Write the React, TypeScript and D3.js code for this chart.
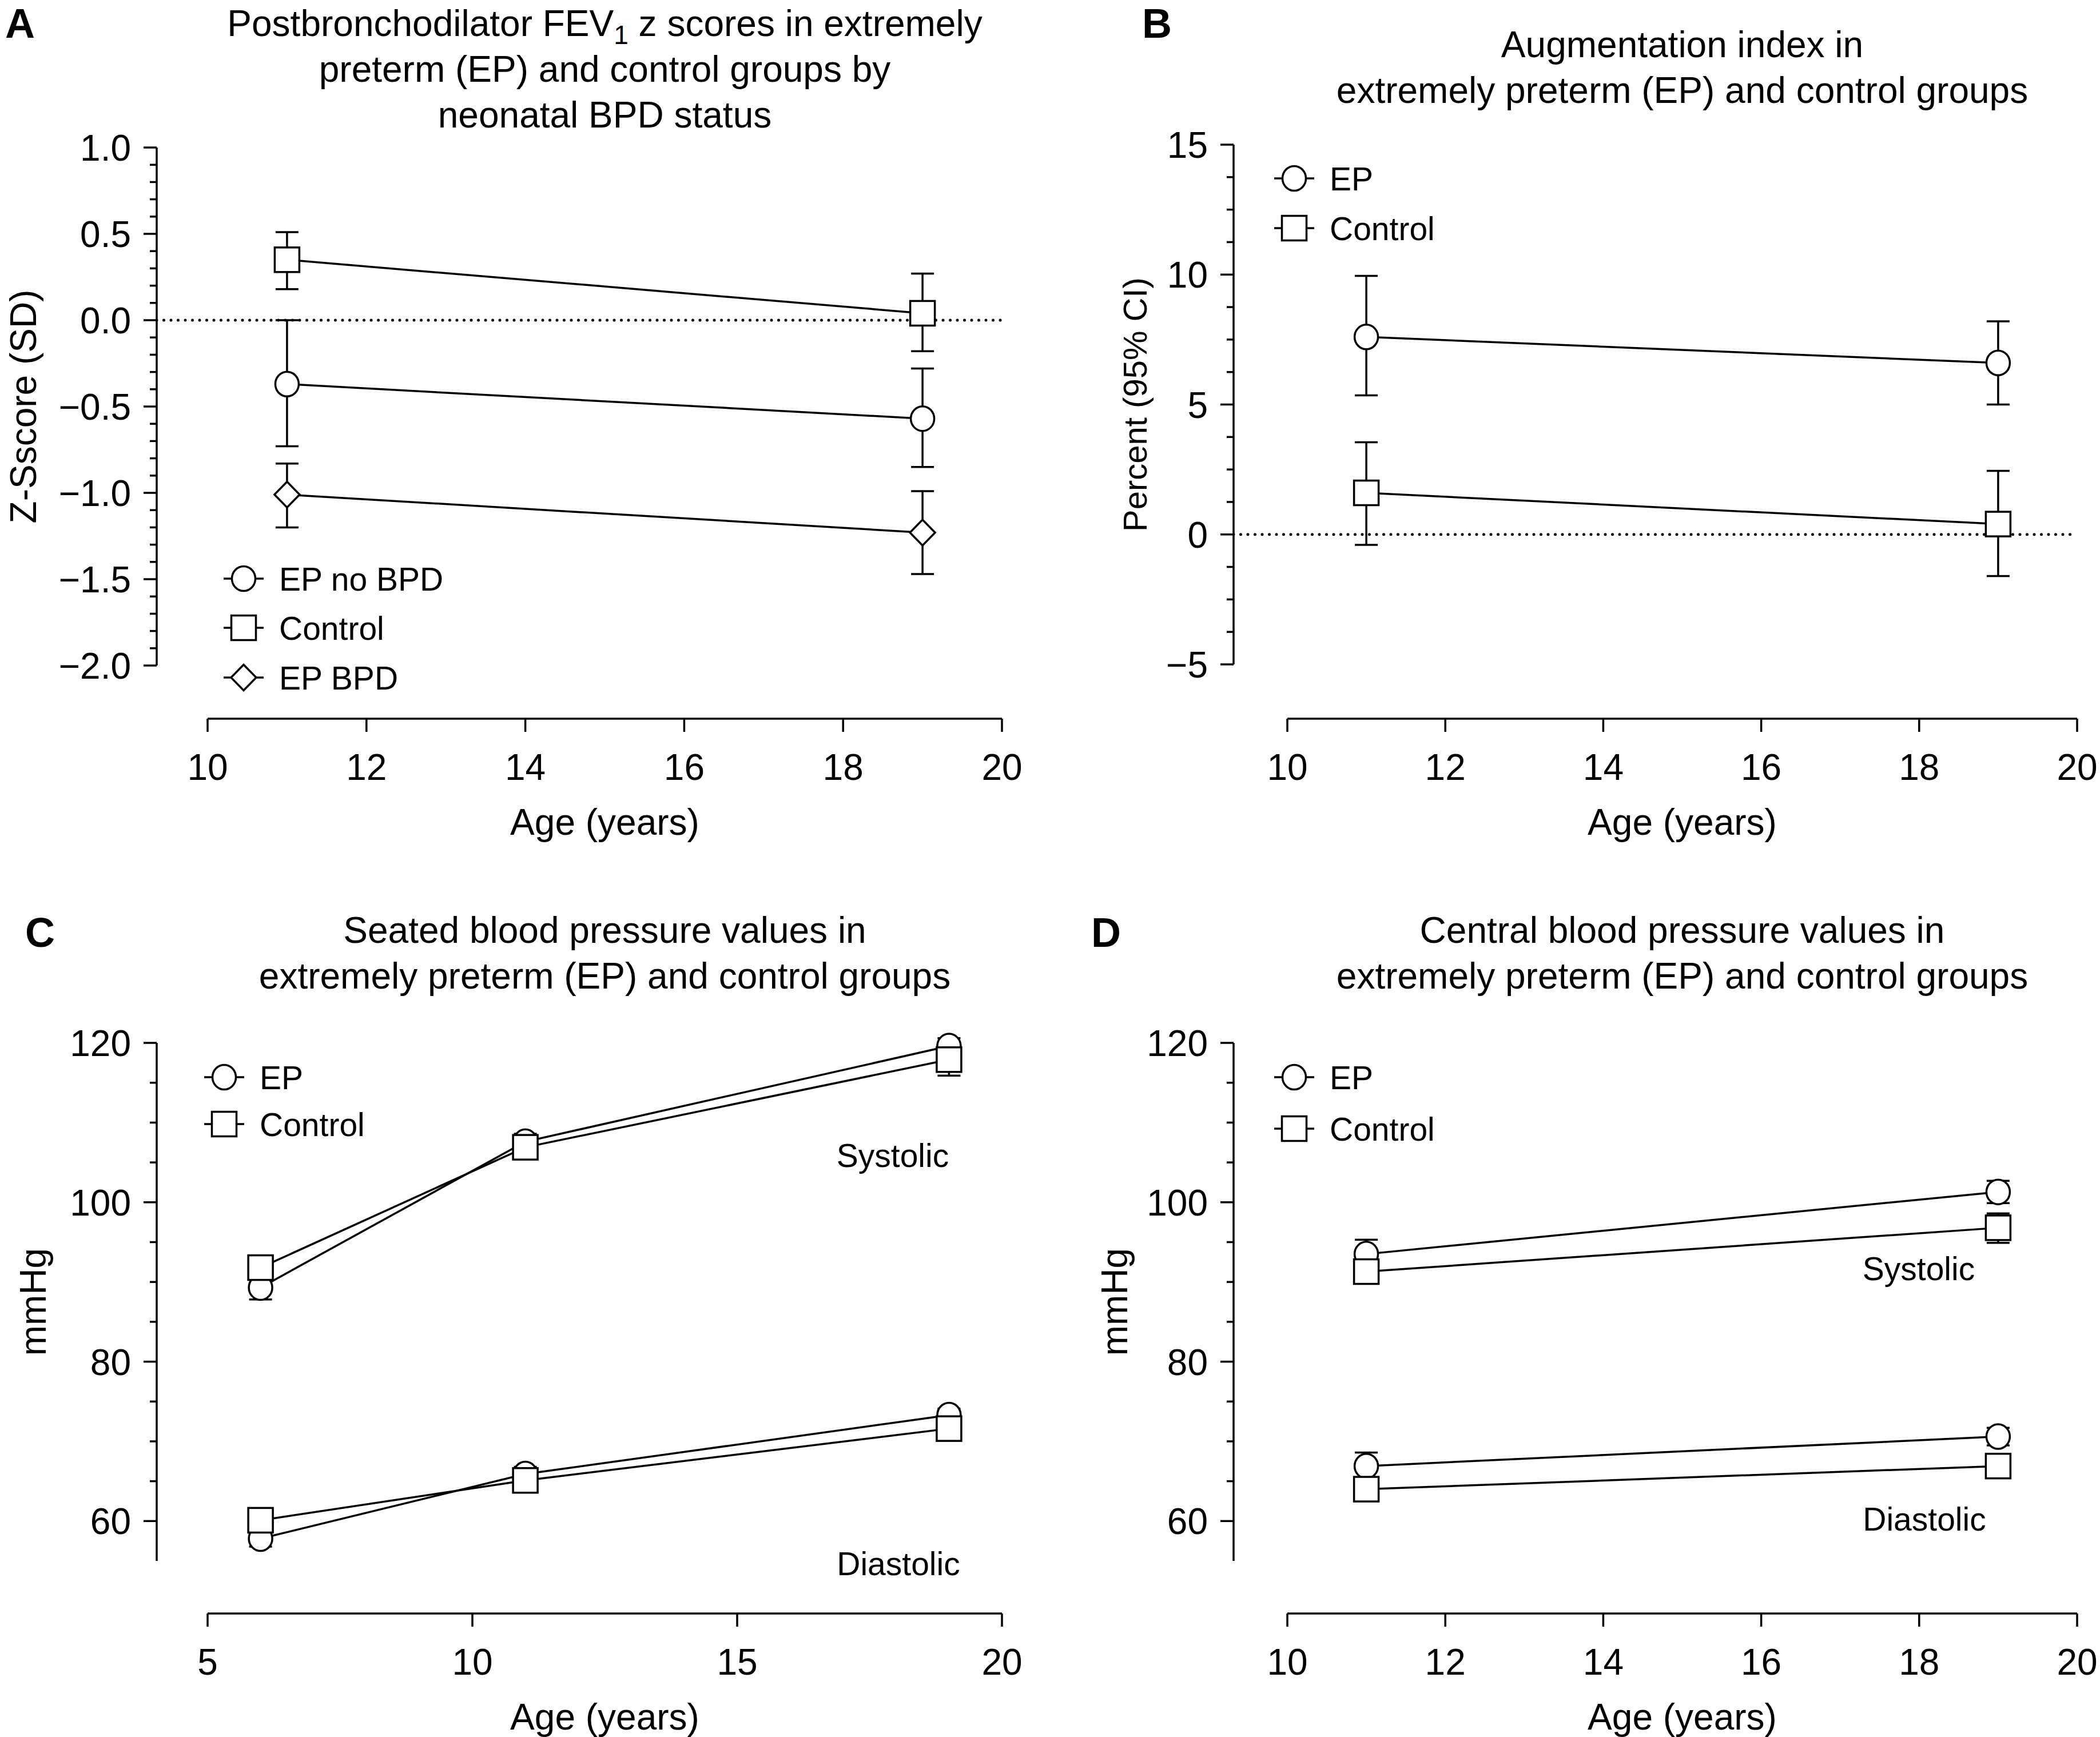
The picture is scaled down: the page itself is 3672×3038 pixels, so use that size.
import * as d3 from 'd3'

const FONT = '"Liberation Sans", Arial, Helvetica, sans-serif'
const LW = 3.5

// ---- A: postbronchodilator FEV1 z scores
const agesA = [11, 19]
const epNoBpdZ = [-0.37, -0.57]
const epNoBpdLo = [-0.73, -0.85]
const epNoBpdHi = [0.0, -0.28]
const controlZ = [0.35, 0.04]
const controlZLo = [0.18, -0.18]
const controlZHi = [0.51, 0.27]
const epBpdZ = [-1.01, -1.23]
const epBpdLo = [-1.2, -1.47]
const epBpdHi = [-0.83, -0.99]

// ---- B: augmentation index
const agesB = [11, 19]
const aixEp = [7.6, 6.6]
const aixEpLo = [5.35, 5.0]
const aixEpHi = [9.95, 8.2]
const aixControl = [1.6, 0.4]
const aixControlLo = [-0.4, -1.6]
const aixControlHi = [3.55, 2.45]

// ---- C: seated blood pressure
const agesC = [6, 11, 19]
const seatSysEp = [89.3, 107.6, 119.6]
const seatSysEpLo = [87.8, 106.6, 118.6]
const seatSysEpHi = [90.8, 108.6, 120.6]
const seatSysCtl = [91.8, 106.9, 117.9]
const seatSysCtlLo = [90.6, 105.9, 115.9]
const seatSysCtlHi = [93.0, 107.9, 119.9]
const seatDiaEp = [57.8, 65.9, 73.3]
const seatDiaEpLo = [56.8, 65.0, 72.5]
const seatDiaEpHi = [58.8, 66.8, 74.1]
const seatDiaCtl = [60.1, 65.1, 71.6]
const seatDiaCtlLo = [59.1, 64.2, 70.8]
const seatDiaCtlHi = [61.1, 66.0, 72.4]

// ---- D: central blood pressure
const agesD = [11, 19]
const cenSysEp = [93.5, 101.3]
const cenSysEpLo = [91.7, 99.9]
const cenSysEpHi = [95.3, 102.7]
const cenSysCtl = [91.3, 96.8]
const cenSysCtlLo = [89.8, 94.9]
const cenSysCtlHi = [92.8, 98.6]
const cenDiaEp = [66.9, 70.6]
const cenDiaEpLo = [65.1, 69.5]
const cenDiaEpHi = [68.6, 71.7]
const cenDiaCtl = [64.0, 66.9]
const cenDiaCtlLo = [62.6, 65.8]
const cenDiaCtlHi = [65.4, 68.0]

const xTicks10 = [10, 12, 14, 16, 18, 20]
const xTicks5 = [5, 10, 15, 20]
const yTicksA = [1.0, 0.5, 0.0, -0.5, -1.0, -1.5, -2.0]
const yTicksB = [15, 10, 5, 0, -5]
const yTicksBP = [120, 100, 80, 60]

const mk = (shape, xs, ys, lo, hi) => ({
  shape,
  pts: xs.map((x, i) => ({ x, y: ys[i], lo: lo[i], hi: hi[i] })),
})

const panels = [
  {
    letter: 'A', letterPos: [35, 66],
    title: [['Postbronchodilator FEV', '1', ' z scores in extremely'], ['preterm (EP) and control groups by'], ['neonatal BPD status']],
    titleY: 40,
    xDomain: [10, 20], xRange: [363, 1752], xTicks: xTicks10, xAxisY: 1257,
    yDomain: [-2, 1], yRange: [1164, 258], yTicks: yTicksA, yMinor: 0.1, yAxisX: 274,
    yFmt: d3.format('.1f'),
    yLabel: 'Z-Sscore (SD)', yLabelX: 40, yLabelSize: 64,
    zero: true,
    series: [
      mk('circle', agesA, epNoBpdZ, epNoBpdLo, epNoBpdHi),
      mk('square', agesA, controlZ, controlZLo, controlZHi),
      mk('diamond', agesA, epBpdZ, epBpdLo, epBpdHi),
    ],
    legend: { x: 426, y: [1012, 1098, 1185], items: [['circle', 'EP no BPD'], ['square', 'Control'], ['diamond', 'EP BPD']] },
    notes: [],
  },
  {
    letter: 'B', letterPos: [2023, 66],
    title: [['Augmentation index in'], ['extremely preterm (EP) and control groups']],
    titleY: 77,
    xDomain: [10, 20], xRange: [2251, 3632], xTicks: xTicks10, xAxisY: 1257,
    yDomain: [-5, 15], yRange: [1162, 253], yTicks: yTicksB, yMinor: 1.25, yAxisX: 2157,
    yFmt: d3.format('d'),
    yLabel: 'Percent (95% CI)', yLabelX: 1984, yLabelSize: 58,
    zero: true,
    series: [
      mk('circle', agesB, aixEp, aixEpLo, aixEpHi),
      mk('square', agesB, aixControl, aixControlLo, aixControlHi),
    ],
    legend: { x: 2263, y: [312, 399], items: [['circle', 'EP'], ['square', 'Control']] },
    notes: [],
  },
  {
    letter: 'C', letterPos: [70, 1656],
    title: [['Seated blood pressure values in'], ['extremely preterm (EP) and control groups']],
    titleY: 1626,
    xDomain: [5, 20], xRange: [363, 1752], xTicks: xTicks5, xAxisY: 2822,
    yDomain: [55, 120], yRange: [2730, 1824], yTicks: yTicksBP, yMinor: 5, yAxisX: 274,
    yFmt: d3.format('d'),
    yLabel: 'mmHg', yLabelX: 57, yLabelSize: 64,
    zero: false,
    series: [
      mk('circle', agesC, seatSysEp, seatSysEpLo, seatSysEpHi),
      mk('square', agesC, seatSysCtl, seatSysCtlLo, seatSysCtlHi),
      mk('circle', agesC, seatDiaEp, seatDiaEpLo, seatDiaEpHi),
      mk('square', agesC, seatDiaCtl, seatDiaCtlLo, seatDiaCtlHi),
    ],
    legend: { x: 392, y: [1884, 1966], items: [['circle', 'EP'], ['square', 'Control']] },
    notes: [['Systolic', 1561, 2020], ['Diastolic', 1571, 2734]],
  },
  {
    letter: 'D', letterPos: [1934, 1656],
    title: [['Central blood pressure values in'], ['extremely preterm (EP) and control groups']],
    titleY: 1626,
    xDomain: [10, 20], xRange: [2251, 3632], xTicks: xTicks10, xAxisY: 2822,
    yDomain: [55, 120], yRange: [2730, 1824], yTicks: yTicksBP, yMinor: 5, yAxisX: 2157,
    yFmt: d3.format('d'),
    yLabel: 'mmHg', yLabelX: 1948, yLabelSize: 64,
    zero: false,
    series: [
      mk('circle', agesD, cenSysEp, cenSysEpLo, cenSysEpHi),
      mk('square', agesD, cenSysCtl, cenSysCtlLo, cenSysCtlHi),
      mk('circle', agesD, cenDiaEp, cenDiaEpLo, cenDiaEpHi),
      mk('square', agesD, cenDiaCtl, cenDiaCtlLo, cenDiaCtlHi),
    ],
    legend: { x: 2263, y: [1884, 1974], items: [['circle', 'EP'], ['square', 'Control']] },
    notes: [['Systolic', 3355, 2218], ['Diastolic', 3365, 2656]],
  },
]

function Marker({ shape, x, y }) {
  const common = { fill: '#fff', stroke: '#000', strokeWidth: LW }
  if (shape === 'circle') return <ellipse cx={x} cy={y} rx={20.5} ry={21.5} {...common} />
  if (shape === 'square') return <rect x={x - 21.5} y={y - 21.5} width={43} height={43} {...common} />
  return <path d={`M${x},${y - 22.5}L${x + 22},${y}L${x},${y + 22.5}L${x - 22},${y}Z`} {...common} />
}

function Panel({ p }) {
  const x = d3.scaleLinear().domain(p.xDomain).range(p.xRange)
  const y = d3.scaleLinear().domain(p.yDomain).range(p.yRange)
  const line = d3.line().x((d) => x(d.x)).y((d) => y(d.y))
  const minor = d3.range(p.yDomain[0], p.yDomain[1] + 1e-6, p.yMinor)
    .filter((v) => !p.yTicks.some((t) => Math.abs(t - v) < 1e-6))
    .filter((v) => Math.abs(v - p.yDomain[0]) > 1e-6 || p.yTicks.includes(p.yDomain[0]))
  const xMid = (p.xRange[0] + p.xRange[1]) / 2
  const cap = 20

  return (
    <g>
      <text x={p.letterPos[0]} y={p.letterPos[1]} fontSize={72} fontWeight="bold" textAnchor="middle">{p.letter}</text>
      {p.title.map((ln, i) => (
        <text key={i} x={xMid} y={p.titleY + i * 80 + 23} fontSize={64} textAnchor="middle">
          {ln.length === 1 ? ln[0] : (
            <>
              {ln[0]}
              <tspan dy={14} fontSize={46}>{ln[1]}</tspan>
              <tspan dy={-14}>{ln[2]}</tspan>
            </>
          )}
        </text>
      ))}

      {/* y axis */}
      <line x1={p.yAxisX} x2={p.yAxisX} y1={p.yRange[0]} y2={p.yRange[1]} stroke="#000" strokeWidth={LW} />
      {p.yTicks.map((t) => (
        <g key={t}>
          <line x1={p.yAxisX - 23} x2={p.yAxisX} y1={y(t)} y2={y(t)} stroke="#000" strokeWidth={LW} />
          <text x={p.yAxisX - 45} y={y(t)} dy="0.36em" fontSize={64} textAnchor="end">{p.yFmt(t)}</text>
        </g>
      ))}
      {minor.map((t) => (
        <line key={t} x1={p.yAxisX - 12} x2={p.yAxisX} y1={y(t)} y2={y(t)} stroke="#000" strokeWidth={LW} />
      ))}
      <text transform={`translate(${p.yLabelX},${(p.yRange[0] + p.yRange[1]) / 2}) rotate(-90)`}
        dy="0.36em" fontSize={p.yLabelSize} textAnchor="middle">{p.yLabel}</text>

      {/* x axis */}
      <line x1={p.xRange[0]} x2={p.xRange[1]} y1={p.xAxisY} y2={p.xAxisY} stroke="#000" strokeWidth={LW} />
      {p.xTicks.map((t) => (
        <g key={t}>
          <line x1={x(t)} x2={x(t)} y1={p.xAxisY} y2={p.xAxisY + 23} stroke="#000" strokeWidth={LW} />
          <text x={x(t)} y={p.xAxisY + 84} dy="0.36em" fontSize={64} textAnchor="middle">{t}</text>
        </g>
      ))}
      <text x={xMid} y={p.xAxisY + 180} dy="0.36em" fontSize={64} textAnchor="middle">Age (years)</text>

      {p.zero && (
        <line x1={p.yAxisX} x2={p.xRange[1]} y1={y(0)} y2={y(0)} stroke="#000" strokeWidth={5}
          strokeDasharray="0 12.5" strokeLinecap="round" />
      )}

      {p.series.map((s, i) => (
        <g key={'l' + i}>
          <path d={line(s.pts)} fill="none" stroke="#000" strokeWidth={LW} />
          {s.pts.map((d, j) => (
            <g key={j}>
              <line x1={x(d.x)} x2={x(d.x)} y1={y(d.lo)} y2={y(d.hi)} stroke="#000" strokeWidth={LW} />
              <line x1={x(d.x) - cap} x2={x(d.x) + cap} y1={y(d.lo)} y2={y(d.lo)} stroke="#000" strokeWidth={LW} />
              <line x1={x(d.x) - cap} x2={x(d.x) + cap} y1={y(d.hi)} y2={y(d.hi)} stroke="#000" strokeWidth={LW} />
            </g>
          ))}
        </g>
      ))}
      {p.series.map((s, i) => (
        <g key={'m' + i}>
          {s.pts.map((d, j) => <Marker key={j} shape={s.shape} x={x(d.x)} y={y(d.y)} />)}
        </g>
      ))}

      {p.legend.items.map(([shape, label], i) => (
        <g key={label}>
          <line x1={p.legend.x - 35} x2={p.legend.x + 35} y1={p.legend.y[i]} y2={p.legend.y[i]} stroke="#000" strokeWidth={LW} />
          <Marker shape={shape} x={p.legend.x} y={p.legend.y[i]} />
          <text x={p.legend.x + 62} y={p.legend.y[i]} dy="0.36em" fontSize={57}>{label}</text>
        </g>
      ))}

      {p.notes.map(([txt, nx, ny]) => (
        <text key={txt} x={nx} y={ny} dy="0.36em" fontSize={57} textAnchor="middle">{txt}</text>
      ))}
    </g>
  )
}

export default function App() {
  return (
    <svg width={3672} height={3038} viewBox="0 0 3672 3038"
      style={{ position: 'absolute', left: 0, top: 0, background: '#fff' }}
      fontFamily={FONT} fill="#000">
      <rect width={3672} height={3038} fill="#fff" />
      {panels.map((p) => <Panel key={p.letter} p={p} />)}
    </svg>
  )
}
